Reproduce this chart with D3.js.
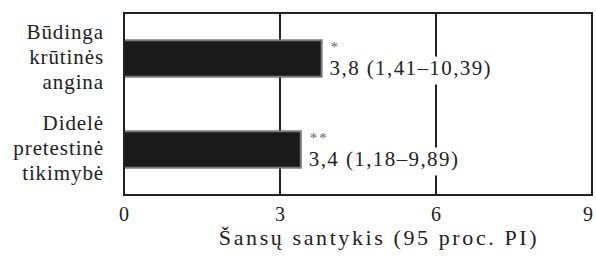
<!DOCTYPE html>
<html>
<head>
<meta charset="utf-8">
<script src="https://cdn.jsdelivr.net/npm/d3@7"></script>
<style>
  body { margin: 0; background: #fff; }
  svg { display: block; }
  text { font-family: "Liberation Serif", serif; fill: #222; }
</style>
</head>
<body>
<svg id="chart" width="596" height="257"></svg>
<script>
// data
const categories = [
  ["Būdinga", "krūtinės", "angina"],
  ["Didelė", "pretestinė", "tikimybė"]
];
const oddsRatios = [3.8, 3.4];
const ciLabels = ["3,8 (1,41–10,39)", "3,4 (1,18–9,89)"];
const significance = ["*", "**"];
const xTicks = [0, 3, 6, 9];
const xTitle = "Šansų santykis (95 proc. PI)";

const svg = d3.select("#chart");
const margin = { top: 13, right: 4, bottom: 62, left: 124 };
const width = 596 - margin.left - margin.right;
const height = 257 - margin.top - margin.bottom;

const g = svg.append("g")
  .attr("transform", `translate(${margin.left},${margin.top})`);

const x = d3.scaleLinear().domain([0, 9]).range([0, width]);
const y = d3.scaleBand()
  .domain(d3.range(categories.length))
  .range([0, height])
  .paddingInner(0.6)
  .paddingOuter(0.3);

// gridlines
g.selectAll(".grid")
  .data(xTicks.filter(d => d > 0 && d < 9))
  .enter()
  .append("line")
  .attr("x1", d => x(d)).attr("x2", d => x(d))
  .attr("y1", 0).attr("y2", height)
  .attr("stroke", "#222")
  .attr("stroke-width", 2);

// bars
g.selectAll(".bar")
  .data(oddsRatios)
  .enter()
  .append("rect")
  .attr("x", x(0))
  .attr("y", (d, i) => y(i))
  .attr("width", d => x(d) - x(0))
  .attr("height", y.bandwidth())
  .attr("fill", "#1a1a1a")
  .attr("stroke", "#777")
  .attr("stroke-width", 2);

// value labels, white box behind so the grid line breaks
const labels = g.selectAll(".val")
  .data(oddsRatios)
  .enter()
  .append("g")
  .attr("transform", (d, i) => `translate(${x(d) + 8},${y(i) + y.bandwidth() / 2})`);

labels.each(function(d, i) {
  const lg = d3.select(this);
  const t = lg.append("text")
    .attr("y", 16)
    .style("font-size", "21px")
    .style("letter-spacing", "1.4px")
    .text(ciLabels[i]);
  const bb = t.node().getBBox();
  lg.insert("rect", "text")
    .attr("x", bb.x - 2).attr("y", bb.y + 1)
    .attr("width", bb.width + 4).attr("height", bb.height + 4)
    .attr("fill", "#fff");
  lg.append("text")
    .attr("x", 1)
    .attr("y", -7)
    .style("font-size", "15px")
    .style("fill", "#666")
    .style("letter-spacing", "2px")
    .text(significance[i]);
});

// frame
g.append("rect")
  .attr("width", width).attr("height", height)
  .attr("fill", "none")
  .attr("stroke", "#222")
  .attr("stroke-width", 2);

// category labels
g.selectAll(".cat")
  .data(categories)
  .enter()
  .append("text")
  .attr("text-anchor", "end")
  .attr("transform", (d, i) => `translate(-20,${y(i) + y.bandwidth() / 2})`)
  .style("font-size", "21px")
  .style("letter-spacing", "0.9px")
  .selectAll("tspan")
  .data(d => d)
  .enter()
  .append("tspan")
  .attr("x", 0)
  .attr("y", (d, j) => (j - 1) * 25 + 5)
  .text(d => d);

// x tick labels
g.selectAll(".tick")
  .data(xTicks)
  .enter()
  .append("text")
  .attr("x", d => Math.min(x(d), width - 4))
  .attr("y", height + 26)
  .attr("text-anchor", "middle")
  .style("font-size", "20px")
  .text(d => d);

// axis title
g.append("text")
  .attr("x", 255)
  .attr("y", height + 50)
  .attr("text-anchor", "middle")
  .style("font-size", "22px")
  .style("letter-spacing", "2.6px")
  .text(xTitle);
</script>
</body>
</html>
